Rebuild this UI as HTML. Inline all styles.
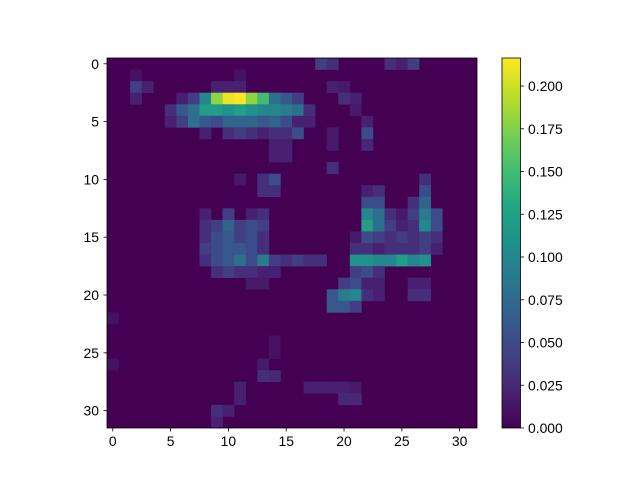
<!DOCTYPE html>
<html><head><meta charset="utf-8"><style>
body{margin:0;background:#fff;}
svg text{font-family:"Liberation Sans",sans-serif;font-size:13.9px;fill:#000;}
</style></head><body>
<svg id="chart" width="640" height="480" xmlns="http://www.w3.org/2000/svg">
<defs><linearGradient id="vg" x1="0" y1="1" x2="0" y2="0"></linearGradient></defs>
<g id="cells"></g>
<rect x="107" y="58" width="370" height="370" fill="none" stroke="#000" stroke-width="0.8"/>
<g id="axes"></g>
<rect x="502" y="58" width="18.5" height="370" fill="url(#vg)" stroke="#000" stroke-width="0.8"/>
<g id="cbticks"></g>
</svg>
<script>
const gridSize = 32;
const vmax = 0.2164;
const xTicks = [0,5,10,15,20,25,30];
const yTicks = [0,5,10,15,20,25,30];
const cbTicks = [0,0.025,0.05,0.075,0.1,0.125,0.15,0.175,0.2];
const cbLabels = ["0.000","0.025","0.050","0.075","0.100","0.125","0.150","0.175","0.200"];
// [row, col, value]
const cellValues = [
[0,18,0.04],[0,19,0.03],[0,24,0.03],[0,25,0.02],[0,26,0.04],
[1,2,0.01],[1,11,0.01],
[2,2,0.04],[2,3,0.02],[2,9,0.02],[2,10,0.02],[2,11,0.02],[2,19,0.02],[2,20,0.015],
[3,2,0.02],[3,6,0.02],[3,7,0.04],[3,8,0.1],[3,9,0.18],[3,10,0.21],[3,11,0.216],[3,12,0.18],[3,13,0.15],[3,14,0.08],[3,15,0.06],[3,16,0.04],[3,20,0.03],[3,21,0.02],
[4,5,0.03],[4,6,0.06],[4,7,0.08],[4,8,0.12],[4,9,0.12],[4,10,0.11],[4,11,0.12],[4,12,0.11],[4,13,0.1],[4,14,0.1],[4,15,0.09],[4,16,0.08],[4,17,0.03],[4,21,0.015],
[5,5,0.02],[5,6,0.04],[5,7,0.08],[5,8,0.06],[5,9,0.05],[5,10,0.07],[5,11,0.07],[5,12,0.07],[5,13,0.06],[5,14,0.07],[5,15,0.05],[5,16,0.02],[5,17,0.02],[5,22,0.02],
[6,8,0.02],[6,10,0.03],[6,11,0.04],[6,12,0.03],[6,13,0.02],[6,14,0.03],[6,15,0.03],[6,16,0.05],[6,19,0.015],[6,22,0.05],
[7,14,0.02],[7,15,0.02],[7,19,0.015],[7,22,0.025],
[8,14,0.02],[8,15,0.02],
[9,19,0.03],
[10,11,0.015],[10,13,0.03],[10,14,0.05],[10,27,0.03],
[11,13,0.03],[11,14,0.03],[11,22,0.02],[11,23,0.03],[11,27,0.05],
[12,22,0.05],[12,23,0.05],[12,26,0.03],[12,27,0.07],
[13,8,0.02],[13,10,0.04],[13,12,0.02],[13,13,0.03],[13,22,0.1],[13,23,0.08],[13,24,0.03],[13,25,0.015],[13,26,0.04],[13,27,0.09],[13,28,0.05],
[14,8,0.03],[14,9,0.04],[14,10,0.07],[14,11,0.04],[14,12,0.05],[14,13,0.04],[14,22,0.12],[14,23,0.08],[14,24,0.04],[14,25,0.02],[14,26,0.03],[14,27,0.1],[14,28,0.05],
[15,8,0.03],[15,9,0.05],[15,10,0.06],[15,11,0.04],[15,12,0.05],[15,13,0.03],[15,21,0.015],[15,22,0.05],[15,23,0.04],[15,24,0.03],[15,25,0.04],[15,26,0.03],[15,27,0.04],[15,28,0.03],
[16,8,0.04],[16,9,0.05],[16,10,0.06],[16,11,0.06],[16,12,0.05],[16,13,0.03],[16,21,0.03],[16,22,0.03],[16,23,0.02],[16,24,0.03],[16,25,0.03],[16,26,0.03],[16,27,0.04],[16,28,0.02],
[17,8,0.03],[17,9,0.05],[17,10,0.06],[17,11,0.08],[17,12,0.05],[17,13,0.09],[17,14,0.04],[17,15,0.03],[17,16,0.04],[17,17,0.03],[17,18,0.03],[17,21,0.11],[17,22,0.11],[17,23,0.1],[17,24,0.1],[17,25,0.12],[17,26,0.1],[17,27,0.11],
[18,9,0.03],[18,10,0.04],[18,11,0.03],[18,12,0.03],[18,13,0.02],[18,14,0.02],[18,21,0.04],[18,22,0.05],[18,23,0.03],
[19,12,0.015],[19,13,0.015],[19,20,0.04],[19,21,0.05],[19,22,0.02],[19,23,0.02],[19,26,0.02],[19,27,0.02],
[20,19,0.06],[20,20,0.09],[20,21,0.1],[20,22,0.03],[20,23,0.02],[20,26,0.03],[20,27,0.03],
[21,19,0.06],[21,20,0.06],[21,21,0.04],
[22,0,0.01],[24,14,0.01],[25,14,0.01],[26,0,0.01],[26,13,0.015],
[27,13,0.03],[27,14,0.025],
[28,11,0.02],[28,17,0.02],[28,18,0.02],[28,19,0.02],[28,20,0.02],[28,21,0.015],
[29,11,0.02],[29,20,0.025],[29,21,0.025],
[30,9,0.03],[30,10,0.02],[31,9,0.02]
];
const viridis=[[68,1,84],[72,35,116],[64,67,135],[52,94,141],[41,120,142],[32,144,140],[34,167,132],[68,190,112],[121,209,81],[189,222,38],[253,231,37]];
function cmap(t){t=Math.max(0,Math.min(1,t));const p=t*10,i=Math.min(9,Math.floor(p)),f=p-i;const a=viridis[i],b=viridis[i+1];return `rgb(${a.map((v,k)=>Math.round(v+(b[k]-v)*f)).join(',')})`;}
const X0=107,Y0=58,W=370,cs=W/gridSize;
const xs=c=>X0+c*cs, ys=r=>Y0+r*cs;
const NS="http://www.w3.org/2000/svg";
function mk(tag,attrs,parent){const e=document.createElementNS(NS,tag);for(const k in attrs)e.setAttribute(k,attrs[k]);parent.appendChild(e);return e;}
const cells=document.getElementById('cells');
const bg=mk('rect',{x:X0,y:Y0,width:W,height:W,fill:cmap(0)},cells);


cellValues.forEach(([r,c,v])=>{
 const e=mk('rect',{x:xs(c),y:ys(r),width:cs+0.3,height:cs+0.3,fill:cmap(v/vmax)},cells);
 
 
});
const ax=document.getElementById('axes');
xTicks.forEach(t=>{
 const x=xs(t)+cs/2;
 mk('line',{x1:x,x2:x,y1:428,y2:431.5,stroke:'#000','stroke-width':0.8},ax);
 const tx=mk('text',{x:x,y:446,'text-anchor':'middle'},ax);tx.textContent=t;
 
 
});
yTicks.forEach(t=>{
 const y=ys(t)+cs/2;
 mk('line',{x1:103.5,x2:107,y1:y,y2:y,stroke:'#000','stroke-width':0.8},ax);
 const tx=mk('text',{x:99,y:y+5,'text-anchor':'end'},ax);tx.textContent=t;
 
 
});
const g=document.getElementById('vg');
for(let i=0;i<=10;i++){mk('stop',{offset:i/10,'stop-color':`rgb(${viridis[i].join(',')})`},g);}
const cb=document.getElementById('cbticks');
cbTicks.forEach((t,i)=>{
 const y=428-t/vmax*370;
 mk('line',{x1:520.5,x2:524,y1:y,y2:y,stroke:'#000','stroke-width':0.8},cb);
 const tx=mk('text',{x:528,y:y+5},cb);tx.textContent=cbLabels[i];
 
 
});
</script>
</body></html>
